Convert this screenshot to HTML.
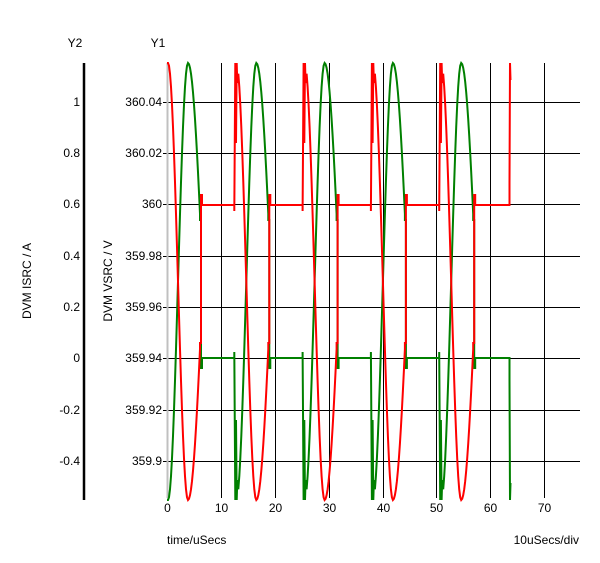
<!DOCTYPE html>
<html><head><meta charset="utf-8"><style>
body{margin:0;background:#fff;}
svg{display:block;font-family:"Liberation Sans",Arial,sans-serif;font-size:12px;}
</style></head><body>
<svg id="s" width="600" height="563" viewBox="0 0 600 563">
<rect width="600" height="563" fill="#fff"/>
<g stroke="#000" stroke-width="1">
<line x1="221.5" y1="63" x2="221.5" y2="498"/>
<line x1="275.5" y1="63" x2="275.5" y2="498"/>
<line x1="329.5" y1="63" x2="329.5" y2="498"/>
<line x1="383.5" y1="63" x2="383.5" y2="498"/>
<line x1="436.5" y1="63" x2="436.5" y2="498"/>
<line x1="490.5" y1="63" x2="490.5" y2="498"/>
<line x1="544.5" y1="63" x2="544.5" y2="498"/>
<line x1="163" y1="102.5" x2="580" y2="102.5"/>
<line x1="163" y1="153.5" x2="580" y2="153.5"/>
<line x1="163" y1="204.5" x2="580" y2="204.5"/>
<line x1="163" y1="256.5" x2="580" y2="256.5"/>
<line x1="163" y1="307.5" x2="580" y2="307.5"/>
<line x1="163" y1="358.5" x2="580" y2="358.5"/>
<line x1="163" y1="410.5" x2="580" y2="410.5"/>
<line x1="163" y1="461.5" x2="580" y2="461.5"/>
</g>
<line x1="167.5" y1="63" x2="167.5" y2="498" stroke="#c0c0c0" stroke-width="2"/>
<line x1="84" y1="63" x2="84" y2="500" stroke="#000" stroke-width="2.5"/>
<g id="series"></g>
<text x="75" y="47" text-anchor="middle">Y2</text>
<text x="158" y="47" text-anchor="middle">Y1</text>
<g text-anchor="end">
<text x="80" y="106">1</text><text x="80" y="157">0.8</text><text x="80" y="208">0.6</text><text x="80" y="260">0.4</text>
<text x="80" y="311">0.2</text><text x="80" y="362">0</text><text x="80" y="414">-0.2</text><text x="80" y="465">-0.4</text>
<text x="162" y="106">360.04</text><text x="162" y="157">360.02</text><text x="162" y="208">360</text><text x="162" y="260">359.98</text>
<text x="162" y="311">359.96</text><text x="162" y="362">359.94</text><text x="162" y="414">359.92</text><text x="162" y="465">359.9</text>
</g>
<g text-anchor="middle">
<text x="167.5" y="512">0</text><text x="221.5" y="512">10</text><text x="275.5" y="512">20</text><text x="329.5" y="512">30</text>
<text x="383.5" y="512">40</text><text x="436.5" y="512">50</text><text x="490.5" y="512">60</text><text x="544.5" y="512">70</text>
</g>
<text x="167" y="544">time/uSecs</text>
<text x="579" y="544" text-anchor="end">10uSecs/div</text>
<text transform="translate(31,281) rotate(-90)" text-anchor="middle">DVM ISRC / A</text>
<text transform="translate(112,281) rotate(-90)" text-anchor="middle">DVM VSRC / V</text>
</svg>
<script>
var g=[],mid=281.5,A=218.5;
function gy(x,P){var d=x-P;if(d<=0)return mid-A*Math.cos(Math.PI*Math.max(d,-20)/20);return mid-A*Math.cos(Math.PI*d/30);}
for(var k=0;k<5;k++){
  var P=188+68.3*k,S=P-21;
  if(k==0){for(var x=167;x<=P+12;x+=1)g.push([x,gy(x,P)]);}
  else{
    g.push([S-1,358],[S-1,352],[S,500],[S+0.7,420],[S+1.4,500],[S+2,480]);
    for(var x=S+3;x<=P+12;x+=1)g.push([x,gy(x,P)]);
  }
  g.push([P+12,220],[P+13,220],[P+13,368],[P+14,368],[P+14,358]);
}
var E=509.5;g.push([E,358],[E,380],[E+0.5,500],[E+1,483]);
function path(pts,f){return pts.map(function(p,i){return (i?'L':'M')+p[0].toFixed(1)+' '+f(p[1]).toFixed(1)}).join(' ');}
var clip=function(y){return Math.max(63,Math.min(500,y));};
var s='<path d="'+path(g,function(y){return clip(y)})+'" fill="none" stroke="#008000" stroke-width="2"/>';
s+='<path d="'+path(g,function(y){return clip(563-y)})+'" fill="none" stroke="#ff0000" stroke-width="2"/>';
document.getElementById('series').innerHTML=s;
</script>
</body></html>
